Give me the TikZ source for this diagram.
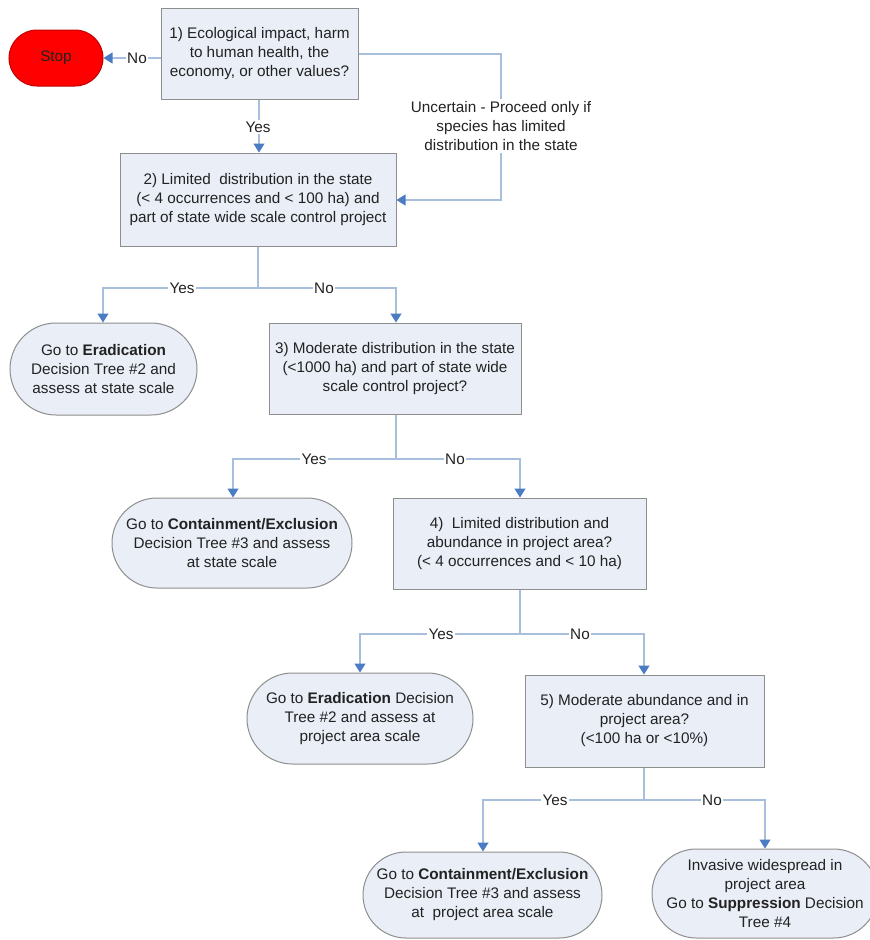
\documentclass[tikz,border=0pt]{standalone}
\usepackage{fontspec}
\setmainfont{Liberation Sans}
\usetikzlibrary{arrows.meta}
\definecolor{boxfill}{HTML}{E9EEF7}
\definecolor{boxline}{HTML}{8E8E8E}
\definecolor{linkline}{HTML}{A7BEDD}
\definecolor{tipblue}{HTML}{4A7CC4}
\definecolor{stopred}{HTML}{FF0000}
\definecolor{stopline}{HTML}{C00000}
\definecolor{txt}{HTML}{222222}
\begin{document}
\begin{tikzpicture}[x=1pt,y=-1pt, font=\fontsize{15.3}{19}\selectfont, text=txt,
  qbox/.style={draw=boxline, fill=boxfill, line width=1pt, align=center, inner sep=0pt},
  term/.style={draw=boxline, fill=boxfill, line width=1pt, align=center, inner sep=0pt},
  link/.style={draw=linkline, line width=1.2pt},
  arr/.style={link, -{Triangle[width=11pt,length=9pt,color=tipblue]}},
  lbl/.style={fill=white, inner sep=1.5pt}]
\useasboundingbox[fill=white] (0,0) rectangle (870,940);

% nodes
\node[term, fill=stopred, draw=stopline, minimum width=94pt, minimum height=56pt, rounded corners=28pt] (stop) at (56,58) {Stop};
\node[qbox, minimum width=197pt, minimum height=91pt] (q1) at (259.5,53.5)
  {1) Ecological impact, harm\\to human health, the\\economy, or other values?};
\node[qbox, minimum width=276pt, minimum height=93pt] (q2) at (258,199.5)
  {2) Limited\ \ distribution in the state\\(< 4 occurrences and < 100 ha) and\\part of state wide scale control project};
\node[term, minimum width=187pt, minimum height=92pt, rounded corners=46pt] (e1) at (103.5,369)
  {Go to \textbf{Eradication}\\Decision Tree \#2 and\\assess at state scale};
\node[qbox, minimum width=252pt, minimum height=91pt] (q3) at (395,368.5)
  {3) Moderate distribution in the state\\(<1000 ha) and part of state wide\\scale control project?};
\node[term, minimum width=240pt, minimum height=90pt, rounded corners=45pt] (c1) at (232,543)
  {Go to \textbf{Containment/Exclusion}\\Decision Tree \#3 and assess\\at state scale};
\node[qbox, minimum width=253pt, minimum height=91pt] (q4) at (519.5,543.5)
  {4)\ \ Limited distribution and\\abundance in project area?\\(< 4 occurrences and < 10 ha)};
\node[term, minimum width=226pt, minimum height=91pt, rounded corners=45.5pt] (e2) at (360,718.5)
  {Go to \textbf{Eradication} Decision\\Tree \#2 and assess at\\project area scale};
\node[qbox, minimum width=239pt, minimum height=92pt] (q5) at (644.5,721)
  {5) Moderate abundance and in\\project area?\\(<100 ha or <10\%)};
\node[term, minimum width=239pt, minimum height=86pt, rounded corners=43pt] (c2) at (482.5,895)
  {Go to \textbf{Containment/Exclusion}\\Decision Tree \#3 and assess\\at\ \ project area scale};
\node[term, minimum width=226pt, minimum height=89pt, rounded corners=44.5pt] (s4) at (765,893.5)
  {Invasive widespread in\\project area\\Go to \textbf{Suppression} Decision\\Tree \#4};

% q1 connectors
\draw[arr] (q1.west |- stop.east) -- (stop.east);
\node[lbl] (lno1) at (137,58) {No};
\draw[arr] (q1.south -| 259,0) -- (q2.north -| 259,0);
\node[lbl] (lyes1) at (258,127) {Yes};
\coordinate (u1) at (501,54);
\coordinate (u2) at (501,200);
\draw[arr] (q1.east |- u1) -- (u1) -- (u2) -- (q2.east |- u2);
\node[lbl, align=center, inner sep=2pt] (lunc) at (501,126) {Uncertain - Proceed only if\\species has limited\\distribution in the state};

% q2 split
\coordinate (s2) at (258,288);
\draw[link] (q2.south -| s2) -- (s2);
\draw[arr] (s2) -| (e1.north -| 103,0);
\draw[arr] (s2) -| (q3.north -| 396,0);
\node[lbl] (lyes2) at (182,288) {Yes};
\node[lbl] (lno2) at (324,288) {No};

% q3 split
\coordinate (s3) at (396,459);
\draw[link] (q3.south -| s3) -- (s3);
\draw[arr] (s3) -| (c1.north -| 233,0);
\draw[arr] (s3) -| (q4.north -| 520,0);
\node[lbl] (lyes3) at (314,459) {Yes};
\node[lbl] (lno3) at (455,459) {No};

% q4 split
\coordinate (s4c) at (520,634);
\draw[link] (q4.south -| s4c) -- (s4c);
\draw[arr] (s4c) -| (e2.north -| 360,0);
\draw[arr] (s4c) -| (q5.north -| 644,0);
\node[lbl] (lyes4) at (441,634) {Yes};
\node[lbl] (lno4) at (580,634) {No};

% q5 split
\coordinate (s5) at (644,800);
\draw[link] (q5.south -| s5) -- (s5);
\draw[arr] (s5) -| (c2.north -| 483,0);
\draw[arr] (s5) -| (s4.north -| 765,0);
\node[lbl] (lyes5) at (555,800) {Yes};
\node[lbl] (lno5) at (712,800) {No};
\end{tikzpicture}
\end{document}
